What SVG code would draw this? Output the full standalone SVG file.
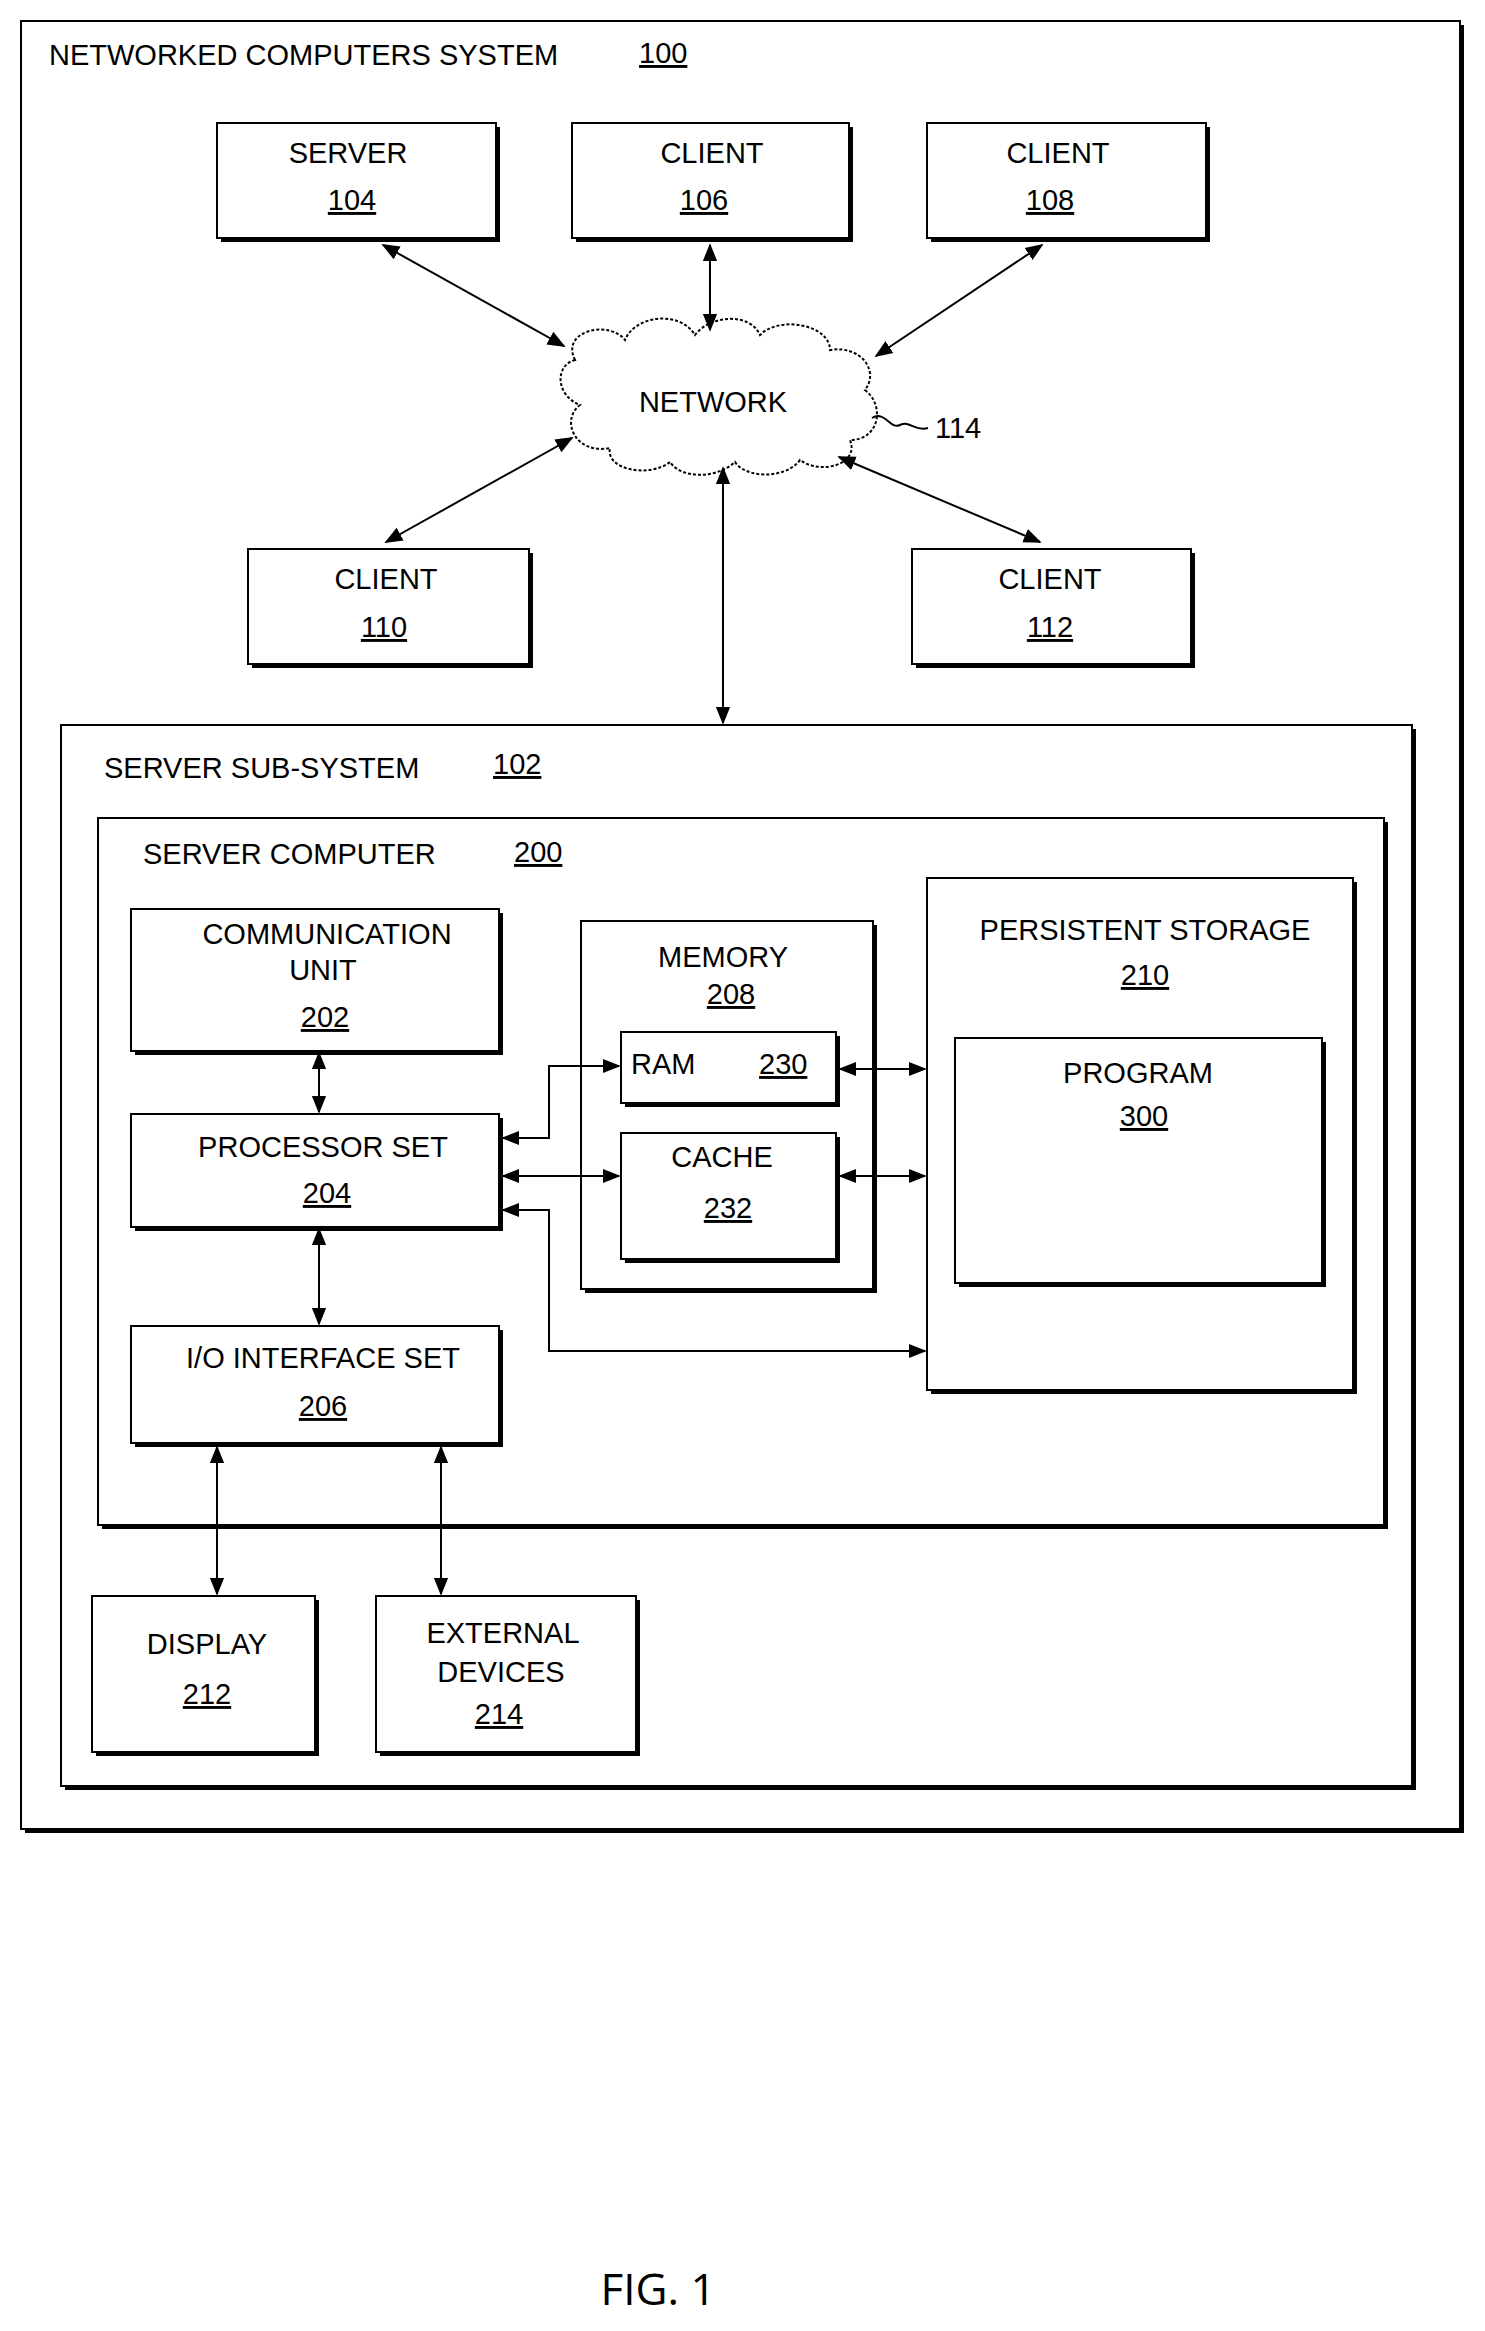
<svg xmlns="http://www.w3.org/2000/svg" width="1485" height="2331" viewBox="0 0 1485 2331">
<style>
.b{fill:#fff;stroke:#000;stroke-width:2}
.s{fill:none;stroke:#000;stroke-width:4}
.t{font-family:"Liberation Sans",Arial,sans-serif;font-size:29px;fill:#000;text-anchor:middle}
.l{text-anchor:start}
.u{text-decoration:underline}
.c{fill:none;stroke:#000;stroke-width:2}
</style>
<defs>
<marker id="a" viewBox="0 0 10 10" refX="9" refY="5" markerWidth="9" markerHeight="9" orient="auto-start-reverse"><path d="M0,1 L10,5 L0,9 z" fill="#000"/></marker>
</defs>
<rect width="1485" height="2331" fill="#fff"/>
<g id="system100">
<rect class="b" x="21" y="21" width="1439" height="1808"/>
<path class="s" d="M1462,25 V1831 H25"/>
<text class="t l" x="49" y="65">NETWORKED COMPUTERS SYSTEM</text>
<text class="t l u" x="639" y="63">100</text>
</g>
<g id="server104"><rect class="b" x="217" y="123" width="279" height="115"/><path class="s" d="M498,127 V240 H221"/><text class="t" x="348" y="163">SERVER</text><text class="t u" x="352" y="210">104</text></g>
<g id="client106"><rect class="b" x="572" y="123" width="277" height="115"/><path class="s" d="M851,127 V240 H576"/><text class="t" x="712" y="163">CLIENT</text><text class="t u" x="704" y="210">106</text></g>
<g id="client108"><rect class="b" x="927" y="123" width="279" height="115"/><path class="s" d="M1208,127 V240 H931"/><text class="t" x="1058" y="163">CLIENT</text><text class="t u" x="1050" y="210">108</text></g>
<g id="network114">
<path class="b" d="M575,360 C560,330 610,320 625,340 C635,315 680,310 695,335 C710,315 750,312 760,335 C780,315 830,325 830,350 C860,345 880,370 865,390 C885,405 880,440 850,440 C860,465 820,475 800,460 C785,480 745,478 735,462 C715,480 680,478 670,462 C650,478 605,470 610,448 C575,455 560,420 580,405 C555,395 555,365 575,360 Z" stroke-dasharray="3,2"/>
<text class="t" x="713" y="412">NETWORK</text>
<path class="c" d="M872,418 C885,410 890,430 900,425 C910,420 915,432 928,428"/>
<text class="t l" x="935" y="438">114</text>
</g>
<g id="client110"><rect class="b" x="248" y="549" width="281" height="115"/><path class="s" d="M531,553 V666 H252"/><text class="t" x="386" y="589">CLIENT</text><text class="t u" x="384" y="637">110</text></g>
<g id="client112"><rect class="b" x="912" y="549" width="279" height="115"/><path class="s" d="M1193,553 V666 H916"/><text class="t" x="1050" y="589">CLIENT</text><text class="t u" x="1050" y="637">112</text></g>
<g id="subsystem102">
<rect class="b" x="61" y="725" width="1351" height="1061"/><path class="s" d="M1414,729 V1788 H65"/>
<text class="t l" x="104" y="778">SERVER SUB-SYSTEM</text><text class="t l u" x="493" y="774">102</text>
</g>
<g id="computer200">
<rect class="b" x="98" y="818" width="1286" height="707"/><path class="s" d="M1386,822 V1527 H102"/>
<text class="t l" x="143" y="864">SERVER COMPUTER</text><text class="t l u" x="514" y="862">200</text>
</g>
<g id="comm202"><rect class="b" x="131" y="909" width="368" height="142"/><path class="s" d="M501,913 V1053 H135"/><text class="t" x="327" y="944">COMMUNICATION</text><text class="t" x="323" y="980">UNIT</text><text class="t u" x="325" y="1027">202</text></g>
<g id="proc204"><rect class="b" x="131" y="1114" width="368" height="113"/><path class="s" d="M501,1118 V1229 H135"/><text class="t" x="323" y="1157">PROCESSOR SET</text><text class="t u" x="327" y="1203">204</text></g>
<g id="io206"><rect class="b" x="131" y="1326" width="368" height="117"/><path class="s" d="M501,1330 V1445 H135"/><text class="t" x="323" y="1368">I/O INTERFACE SET</text><text class="t u" x="323" y="1416">206</text></g>
<g id="memory208"><rect class="b" x="581" y="921" width="292" height="368"/><path class="s" d="M875,925 V1291 H585"/><text class="t" x="723" y="967">MEMORY</text><text class="t u" x="731" y="1004">208</text></g>
<g id="ram230"><rect class="b" x="621" y="1032" width="215" height="71"/><path class="s" d="M838,1036 V1105 H625"/><text class="t l" x="631" y="1074">RAM</text><text class="t l u" x="759" y="1074">230</text></g>
<g id="cache232"><rect class="b" x="621" y="1133" width="215" height="126"/><path class="s" d="M838,1137 V1261 H625"/><text class="t" x="722" y="1167">CACHE</text><text class="t u" x="728" y="1218">232</text></g>
<g id="persist210"><rect class="b" x="927" y="878" width="426" height="512"/><path class="s" d="M1355,882 V1392 H931"/><text class="t" x="1145" y="940">PERSISTENT STORAGE</text><text class="t u" x="1145" y="985">210</text></g>
<g id="program300"><rect class="b" x="955" y="1038" width="367" height="245"/><path class="s" d="M1324,1042 V1285 H959"/><text class="t" x="1138" y="1083">PROGRAM</text><text class="t u" x="1144" y="1126">300</text></g>
<g id="display212"><rect class="b" x="92" y="1596" width="223" height="156"/><path class="s" d="M317,1600 V1754 H96"/><text class="t" x="207" y="1654">DISPLAY</text><text class="t u" x="207" y="1704">212</text></g>
<g id="external214"><rect class="b" x="376" y="1596" width="260" height="156"/><path class="s" d="M638,1600 V1754 H380"/><text class="t" x="503" y="1643">EXTERNAL</text><text class="t" x="501" y="1682">DEVICES</text><text class="t u" x="499" y="1724">214</text></g>
<g id="connectors" class="c" marker-start="url(#a)" marker-end="url(#a)">
<path class="c" marker-start="url(#a)" marker-end="url(#a)" d="M383,245 L564,346"/>
<path class="c" marker-start="url(#a)" marker-end="url(#a)" d="M710,245 L710,330"/>
<path class="c" marker-start="url(#a)" marker-end="url(#a)" d="M1042,245 L876,356"/>
<path class="c" marker-start="url(#a)" marker-end="url(#a)" d="M572,438 L386,542"/>
<path class="c" marker-start="url(#a)" marker-end="url(#a)" d="M839,457 L1040,542"/>
<path class="c" marker-start="url(#a)" marker-end="url(#a)" d="M723,468 L723,723"/>
<path class="c" marker-start="url(#a)" marker-end="url(#a)" d="M319,1053 L319,1112"/>
<path class="c" marker-start="url(#a)" marker-end="url(#a)" d="M319,1229 L319,1324"/>
<path class="c" marker-start="url(#a)" marker-end="url(#a)" d="M503,1138 H549 V1066 H619"/>
<path class="c" marker-start="url(#a)" marker-end="url(#a)" d="M503,1176 H619"/>
<path class="c" marker-start="url(#a)" marker-end="url(#a)" d="M503,1210 H549 V1351 H925"/>
<path class="c" marker-start="url(#a)" marker-end="url(#a)" d="M840,1069 H925"/>
<path class="c" marker-start="url(#a)" marker-end="url(#a)" d="M840,1176 H925"/>
<path class="c" marker-start="url(#a)" marker-end="url(#a)" d="M217,1447 V1594"/>
<path class="c" marker-start="url(#a)" marker-end="url(#a)" d="M441,1447 V1594"/>
</g>
<text x="658" y="2305" style="font-family:'Open Sans','Liberation Sans',sans-serif;font-size:44px" text-anchor="middle">FIG. 1</text>
</svg>
